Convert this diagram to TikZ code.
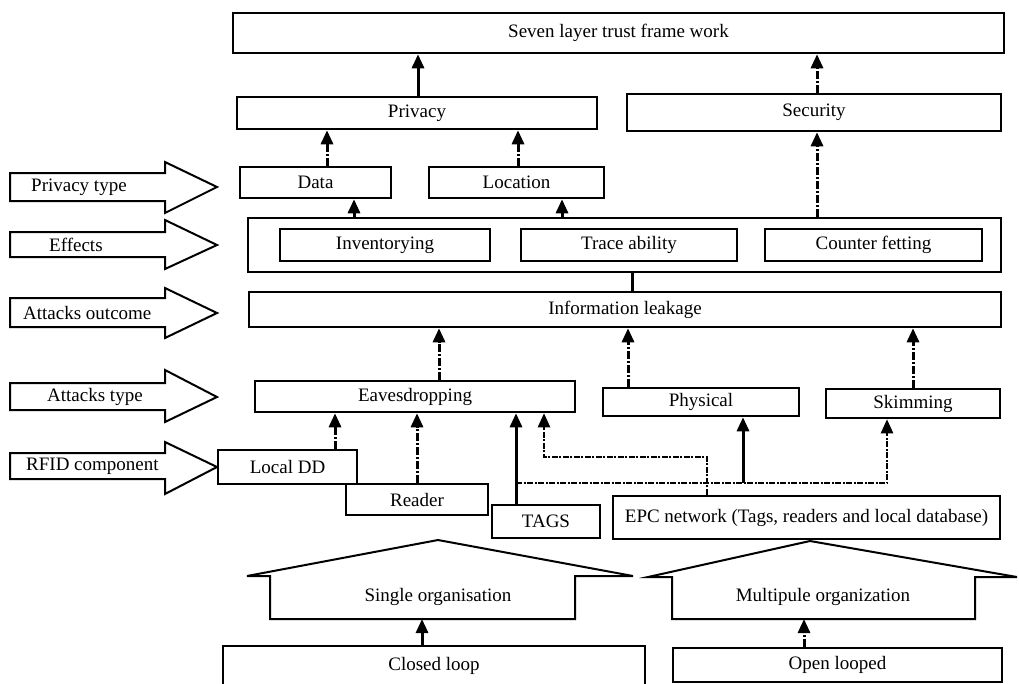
\documentclass[tikz,border=0pt]{standalone}
\usepackage{fontspec}
\setmainfont{Liberation Serif}
\usetikzlibrary{arrows.meta}
\begin{document}
\begin{tikzpicture}[x=1pt,y=-1pt,
  box/.style={draw, line width=2.5pt, inner sep=0pt, font=\fontsize{19}{22}\selectfont},
  lbl/.style={inner sep=0pt, font=\fontsize{19}{22}\selectfont},
  bigarrow/.style={draw, line width=2pt, line join=miter},
  con/.style={line width=3pt},
  arr/.style={con, -{Triangle[width=12pt,length=14pt]}},
  dd/.style={dash pattern=on 8pt off 2pt on 2pt off 2pt},
  thin/.style={line width=2.4pt, dash pattern=on 6pt off 1.5pt on 2pt off 1.5pt}
]
\useasboundingbox (0,0) rectangle (1019,683);
\fill[white] (0,0) rectangle (1019,683);

% main boxes
\node[box, minimum width=771pt, minimum height=40pt] (seven) at (618.5,33) {Seven layer trust frame work};
\node[box, minimum width=360pt, minimum height=32pt] (privacy) at (417,113) {Privacy};
\node[box, minimum width=374pt, minimum height=37pt] (security) at (814,112.5) {Security};
\node[box, minimum width=151pt, minimum height=31pt] (data) at (315.5,182.5) {Data};
\node[box, minimum width=175pt, minimum height=31pt] (location) at (516.5,182.5) {Location};
\node[box, minimum width=753pt, minimum height=54pt] (effects) at (624.5,245) {};
\node[box, minimum width=210pt, minimum height=32pt] (inventory) at (385,245) {Inventorying};
\node[box, minimum width=216pt, minimum height=32pt] (trace) at (629,245) {Trace ability};
\node[box, minimum width=217pt, minimum height=32pt] (counter) at (873.5,245) {Counter fetting};
\node[box, minimum width=752pt, minimum height=35pt] (info) at (625,309.5) {Information leakage};
\node[box, minimum width=320pt, minimum height=31pt] (eaves) at (415,396.5) {Eavesdropping};
\node[box, minimum width=196pt, minimum height=28pt] (physical) at (701,402) {Physical};
\node[box, minimum width=174pt, minimum height=29pt] (skimming) at (913,403.5) {Skimming};
\node[box, minimum width=139pt, minimum height=34pt] (localdd) at (287.5,467) {Local DD};
\node[box, minimum width=142pt, minimum height=31pt] (reader) at (417,499.5) {Reader};
\node[box, minimum width=108pt, minimum height=33pt] (tags) at (546,521.5) {TAGS};
\node[box, minimum width=387pt, minimum height=43pt] (epc) at (806.5,517.5) {EPC network (Tags, readers and local database)};
\node[box, minimum width=422pt, minimum height=40pt] (closed) at (434,666) {Closed loop};
\node[box, minimum width=329pt, minimum height=34pt] (open) at (837.5,665) {Open looped};

% house-shaped arrows
\draw[bigarrow] (270,619) -- (270,576) -- (247,576) -- (438,540) -- (633,576) -- (575,576) -- (575,619) -- cycle;
\node[lbl] (single) at (438,597) {Single organisation};
\coordinate (singleb) at (422,619);
\draw[bigarrow] (672,619) -- (672,577) -- (648,577) -- (810,541) -- (1017,577) -- (975,577) -- (975,619) -- cycle;
\node[lbl] (multiple) at (823,597) {Multipule organization};
\coordinate (multib) at (804,619);

% left block arrows
\draw[bigarrow] (10,173) -- (165,173) -- (165,162) -- (217,187) -- (165,213) -- (165,201) -- (10,201) -- cycle;
\node[lbl, anchor=west] (ptype) at (31,187) {Privacy type};
\draw[bigarrow] (10,232) -- (165,232) -- (165,220) -- (217,245) -- (165,269) -- (165,257) -- (10,257) -- cycle;
\node[lbl, anchor=west] (eff) at (49,245) {Effects};
\draw[bigarrow] (10,298) -- (165,298) -- (165,288) -- (217,313) -- (165,338) -- (165,327) -- (10,327) -- cycle;
\node[lbl, anchor=west] (aout) at (23,313) {Attacks outcome};
\draw[bigarrow] (10,383) -- (165,383) -- (165,370) -- (217,397) -- (165,422) -- (165,410) -- (10,410) -- cycle;
\node[lbl, anchor=west] (atype) at (47,397) {Attacks type};
\draw[bigarrow] (10,453) -- (165,453) -- (165,442) -- (217,467) -- (165,494) -- (165,479) -- (10,479) -- cycle;
\node[lbl, anchor=west] (rfid) at (26,466) {RFID component};

% connectors
\draw[arr] (privacy.north -| 418,0) -- (seven.south -| 418,0);
\draw[arr, dd] (security.north -| 817,0) -- (seven.south -| 817,0);
\draw[arr, dd] (data.north -| 327,0) -- (privacy.south -| 327,0);
\draw[arr, dd] (location.north -| 518,0) -- (privacy.south -| 518,0);
\draw[arr] (effects.north -| 354,0) -- (data.south -| 354,0);
\draw[arr] (effects.north -| 562,0) -- (location.south -| 562,0);
\draw[arr, dd] (effects.north -| 817,0) -- (security.south -| 817,0);
\draw[con] (effects.south -| 632,0) -- (info.north -| 632,0);
\draw[arr, dd] (eaves.north -| 439,0) -- (info.south -| 439,0);
\draw[arr, dd] (physical.north -| 628,0) -- (info.south -| 628,0);
\draw[arr, dd] (skimming.north -| 913,0) -- (info.south -| 913,0);
\draw[arr, dd] (localdd.north -| 335,0) -- (eaves.south -| 335,0);
\draw[arr, dd] (reader.north -| 417,0) -- (eaves.south -| 417,0);
\draw[arr] (tags.north -| 516,0) -- (eaves.south -| 516,0);
\draw[arr, thin] (epc.north -| 707,0) -- (707,457) -- (544,457) -- (eaves.south -| 544,0);
\coordinate (tagsj) at (516,483);
\draw[arr, thin] (tagsj) -- (887,483) -- (skimming.south -| 887,0);
\coordinate (physj) at (743,483);
\draw[arr] (physj) -- (physical.south -| 743,0);
\draw[arr] (closed.north -| 422,0) -- (singleb);
\draw[arr, dd] (open.north -| 804,0) -- (multib);
\end{tikzpicture}
\end{document}
